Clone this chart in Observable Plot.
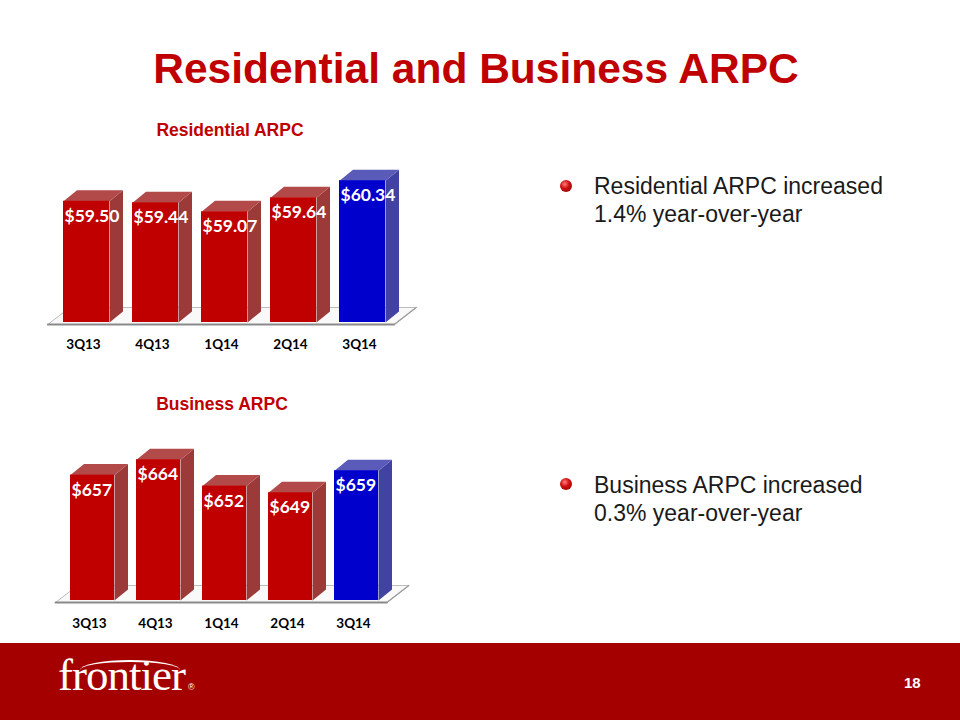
<!DOCTYPE html>
<html><head><meta charset="utf-8">
<script src="https://cdn.jsdelivr.net/npm/d3@7"></script>
<script src="https://cdn.jsdelivr.net/npm/@observablehq/plot@0.6"></script>
<style>
body{margin:0;width:960px;height:720px;position:relative;overflow:hidden;background:#fff;font-family:"Liberation Sans",Arial,sans-serif;}
.abs{position:absolute;}
#title{left:0;width:952px;top:44px;text-align:center;font-size:42.5px;font-weight:bold;color:#C00000;line-height:50px;}
.sub{font-size:17.5px;font-weight:bold;color:#C00000;text-align:center;width:300px;line-height:20px;}
.bullet{left:594px;font-size:23px;color:#1a1a1a;line-height:28px;}
.dot{width:12px;height:12px;border-radius:50%;background:radial-gradient(circle at 40% 35%,#ff8080 0%,#d01010 40%,#8a0000 100%);}
#footer{left:0;top:643px;width:960px;height:77px;background:#A50000;}
#logo{left:58px;top:650px;font-family:"Liberation Serif","Times New Roman",serif;font-size:45px;color:#fff;line-height:50px;letter-spacing:-1px;}
#logo sup{font-size:9px;font-family:"Liberation Sans",Arial,sans-serif;vertical-align:top;position:relative;top:12px;left:3px;}
#swoosh{left:80px;top:660px;width:100px;height:18px;border-top:2px solid #fff;border-radius:50% 50% 0 0;}
#page{left:904px;top:674px;font-family:"Liberation Sans Narrow","Liberation Sans",Arial,sans-serif;font-weight:bold;font-size:15px;color:#fff;}
.chart{position:absolute;left:0;}
</style></head><body>
<div id="title" class="abs">Residential and Business ARPC</div>
<div class="abs sub" style="left:80px;top:120px;">Residential ARPC</div>
<div class="abs sub" style="left:72px;top:394px;">Business ARPC</div>
<div class="abs dot" style="left:560px;top:180px;"></div>
<div class="abs bullet" style="top:172px;">Residential ARPC increased<br>1.4% year-over-year</div>
<div class="abs dot" style="left:560px;top:478px;"></div>
<div class="abs bullet" style="top:471px;">Business ARPC increased<br>0.3% year-over-year</div>
<div id="footer" class="abs"></div>
<div id="swoosh" class="abs"></div>
<div id="logo" class="abs">frontier<sup>®</sup></div>
<div id="page" class="abs">18</div>
<div id="res" class="chart" style="top:140px;"></div>
<div id="bus" class="chart" style="top:420px;"></div>
<script>
const quarters = ["3Q13", "4Q13", "1Q14", "2Q14", "3Q14"];
const residentialARPC = [59.50, 59.44, 59.07, 59.64, 60.34];
const businessARPC = [657, 664, 652, 649, 659];
const highlightQuarter = "3Q14";

const palette = {
  red: {front: "#C00000", side: "#9C3A3A", top: "#B24A4A"},
  blue: {front: "#0000CC", side: "#4242A2", top: "#5A5AB8"}
};

function chart3D({values, fmt, xRange, yDomain, yRange, labelDy}) {
  const n = values.length;
  const pxX = (xRange[1] - xRange[0]) / (n - 1);
  const pxY = (yRange[0] - yRange[1]) / (yDomain[1] - yDomain[0]);
  const hw = 1 / 3;
  const dx = 13.5 / pxX, dy = 11 / pxY;
  const fdx = 22 / pxX, fdy = 17 / pxY;
  const base = yDomain[0];
  const rows = values.map((v, i) => ({q: quarters[i], i, v, kind: quarters[i] === highlightQuarter ? "blue" : "red"}));
  const sides = rows.flatMap(d => [
    {id: d.i, x: d.i + hw, y: base, kind: d.kind},
    {id: d.i, x: d.i + hw, y: d.v, kind: d.kind},
    {id: d.i, x: d.i + hw + dx, y: d.v + dy, kind: d.kind},
    {id: d.i, x: d.i + hw + dx, y: base + dy, kind: d.kind}
  ]);
  const tops = rows.flatMap(d => [
    {id: d.i, x: d.i - hw, y: d.v, kind: d.kind},
    {id: d.i, x: d.i + hw, y: d.v, kind: d.kind},
    {id: d.i, x: d.i + hw + dx, y: d.v + dy, kind: d.kind},
    {id: d.i, x: d.i - hw + dx, y: d.v + dy, kind: d.kind}
  ]);
  const fl = -0.56, fr = n - 1 + 0.46, fb = base - 2 / pxY;
  const floor = [
    {x: fl, y: fb}, {x: fr, y: fb}, {x: fr + fdx, y: fb + fdy}, {x: fl + fdx, y: fb + fdy}, {x: fl, y: fb}
  ];
  const marks = [
    Plot.line(floor, {x: "x", y: "y", fill: "#f9f9f9", stroke: "#bcbcbc", strokeWidth: 1}),
    Plot.line(floor.slice(0, 2), {x: "x", y: "y", stroke: "#8a8a8a", strokeWidth: 2}),
    Plot.line(floor.slice(1, 3), {x: "x", y: "y", stroke: "#9a9a9a", strokeWidth: 1.2})
  ];
  for (const kind of ["red", "blue"]) {
    marks.push(
      Plot.line(sides.filter(d => d.kind === kind), {x: "x", y: "y", z: "id", fill: palette[kind].side, stroke: "none"}),
      Plot.line(tops.filter(d => d.kind === kind), {x: "x", y: "y", z: "id", fill: palette[kind].top, stroke: "none"}),
      Plot.rect(rows.filter(d => d.kind === kind), {x1: d => d.i - hw, x2: d => d.i + hw, y1: base, y2: "v", fill: palette[kind].front})
    );
  }
  marks.push(
    Plot.text(rows, {x: d => d.i - hw, y: "v", text: d => fmt(d.v), textAnchor: "start", dx: 1, dy: 15,
      fill: "white", fontSize: 17.5, fontWeight: "bold", fontFamily: "Lato, 'Open Sans', sans-serif"}),
    Plot.text(rows, {x: "i", y: () => base, text: "q", dx: -3, dy: labelDy,
      fill: "#000", fontSize: 13.5, fontWeight: "bold", fontFamily: "Lato, 'Open Sans', sans-serif"})
  );
  return Plot.plot({
    width: 460, height: 220, margin: 0,
    style: {background: "transparent", overflow: "visible"},
    x: {domain: [0, n - 1], range: xRange, axis: null},
    y: {domain: yDomain, range: yRange, axis: null},
    marks
  });
}

document.getElementById("res").appendChild(chart3D({
  values: residentialARPC, fmt: d3.format("$.2f"),
  xRange: [86, 362], yDomain: [54.55, 61], yRange: [182, 24], labelDy: 22
}));
document.getElementById("bus").appendChild(chart3D({
  values: businessARPC, fmt: d3.format("$.0f"),
  xRange: [92, 356], yDomain: [600, 670], yRange: [180, 26], labelDy: 23
}));
</script>
</body></html>
